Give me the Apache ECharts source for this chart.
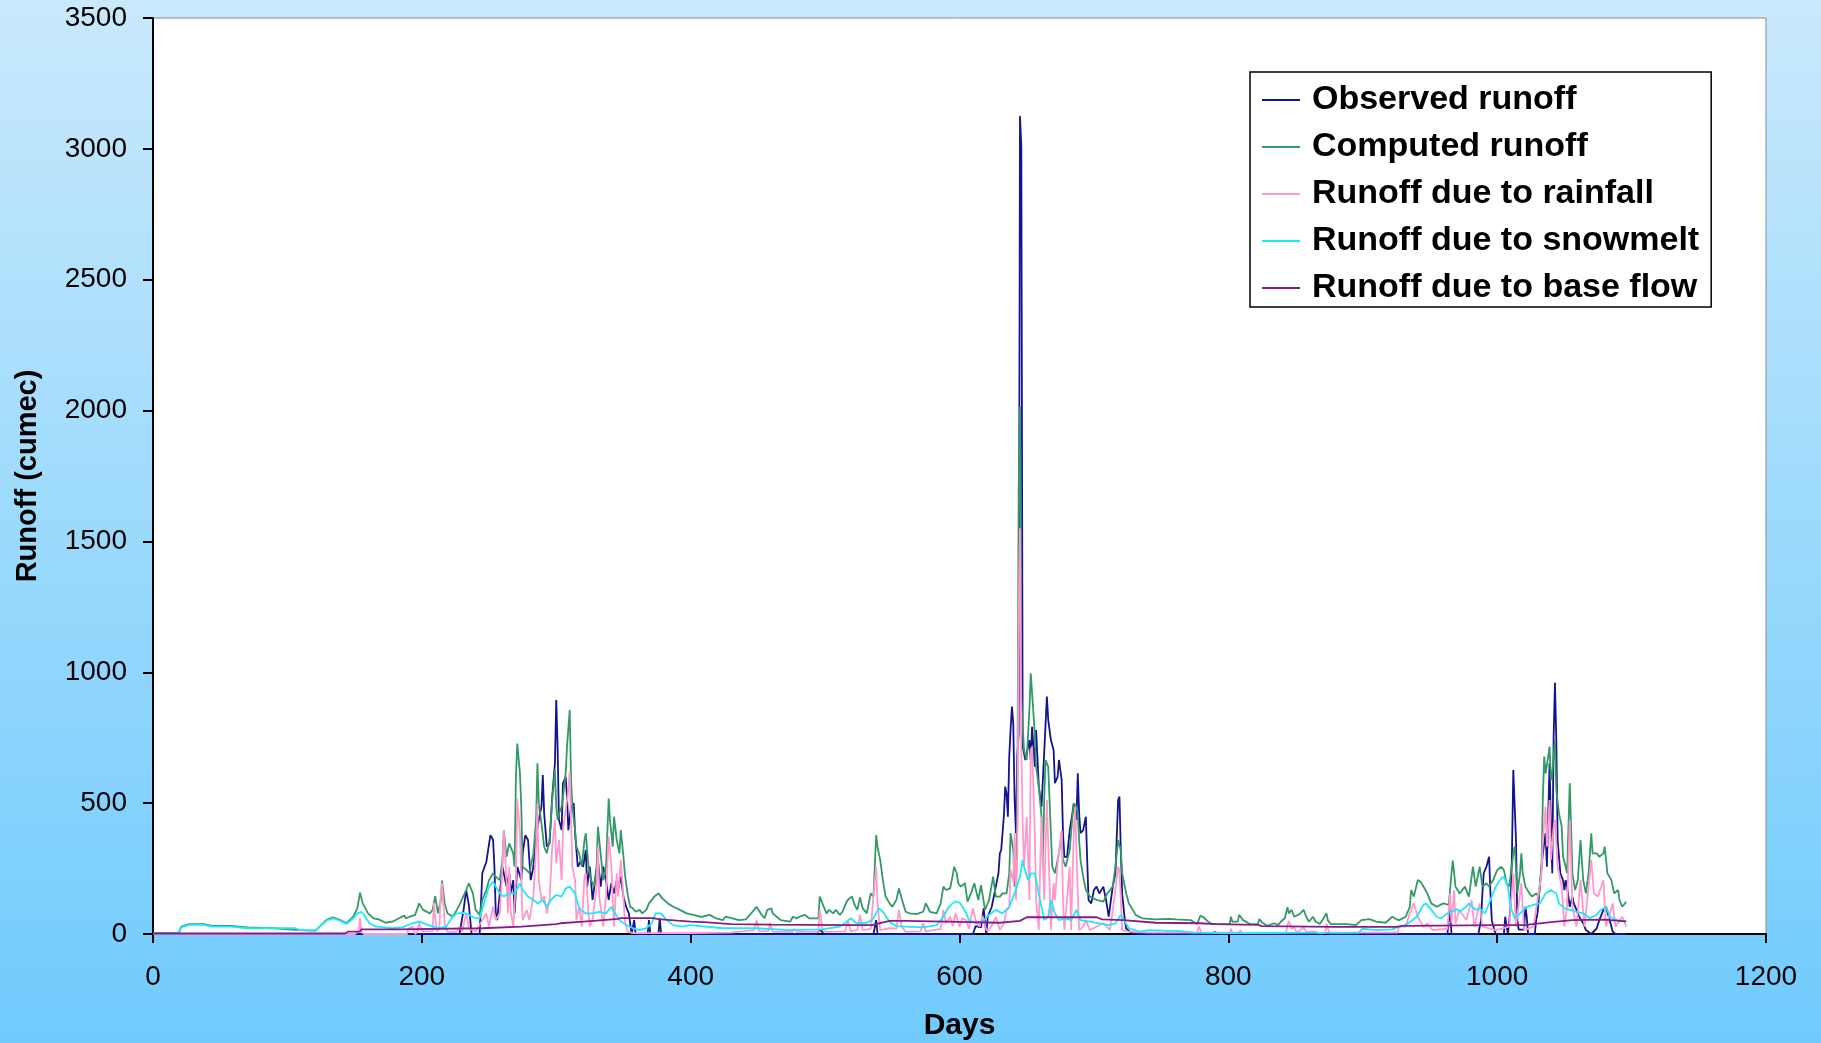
<!DOCTYPE html>
<html>
<head>
<meta charset="utf-8">
<title>Runoff components</title>
<script src="https://cdn.jsdelivr.net/npm/echarts@6/dist/echarts.min.js"></script>
<style>
  html, body { margin: 0; padding: 0; width: 1821px; height: 1043px; overflow: hidden; }
  #chart { width: 1821px; height: 1043px; }
</style>
</head>
<body>
<div id="chart"></div>
<script>
// Daily runoff (cumec) over about three years, as [day, value] pairs.
const seriesNames = ['Observed runoff', 'Computed runoff', 'Runoff due to rainfall', 'Runoff due to snowmelt', 'Runoff due to base flow'];

const observedRunoff = [
  [0,0],[228,0],[231,90],[233,168],[235,110],[237,0],[243,0],[245,232],[248,276],[251,378],[253,359],[254,257],[255,79],[256,53],[258,155],[260,257],[263,181],[265,232],[266,155],[268,206],[269,79],[271,257],[274,206],[275,308],[277,378],[279,359],[281,206],[283,257],[285,372],[287,436],[289,487],[290,607],[291,461],[293,334],[295,346],[297,525],[299,652],[300,894],[301,716],[302,436],[304,397],[305,576],[307,601],[308,525],[309,397],[311,486],[313,499],[314,385],[316,257],[318,276],[320,257],[322,321],[323,181],[325,257],[327,130],[329,206],[331,283],[333,181],[335,257],[337,206],[339,130],[341,194],[343,155],[345,206],[346,168],[348,219],[350,143],[352,104],[354,79],[356,0],[358,53],[359,0],[368,0],[369,53],[370,0],[376,0],[377,60],[378,0],
  [494,0],[495,12],[497,14],[499,0],[536,0],[538,53],[539,0],[610,0],[612,30],[616,25],[618,98],[619,40],[620,0],[621,66],[624,104],[626,155],[629,232],[630,308],[631,320],[633,450],[634,563],[635,537],[636,448],[637,678],[638,780],[639,869],[640,805],[641,512],[642,385],[643,678],[644,767],[645,3125],[646,3008],[647,716],[649,665],[652,741],[653,665],[654,792],[656,639],[657,779],[659,563],[661,486],[663,690],[665,907],[666,818],[668,741],[670,703],[671,576],[673,601],[674,665],[676,588],[677,385],[678,295],[680,295],[682,397],[684,461],[685,499],[687,436],[688,614],[689,461],[690,385],[692,397],[694,448],[695,283],[696,130],[698,117],[700,168],[702,181],[704,155],[707,181],[709,130],[711,66],[714,181],[716,232],[718,512],[719,525],[720,321],[721,155],[723,53],[724,21],[727,8],[731,0],
  [788,0],[790,8],[792,0],[870,0],[872,6],[874,0],[963,0],[964,53],[965,92],[966,0],[986,0],[988,53],[989,155],[990,232],[991,245],[992,257],[994,295],[995,155],[996,53],[998,13],[999,0],[1005,0],[1006,66],[1007,30],[1008,0],[1010,104],[1011,308],[1012,627],[1013,627],[1014,359],[1015,53],[1016,17],[1020,17],[1021,104],[1022,66],[1023,0],[1028,0],[1029,53],[1030,79],[1033,257],[1034,308],[1036,385],[1037,257],[1038,461],[1039,652],[1040,410],[1041,232],[1042,754],[1043,960],[1044,741],[1045,359],[1046,295],[1047,232],[1049,206],[1050,168],[1051,206],[1052,181],[1054,104],[1056,143],[1057,117],[1059,92],[1061,66],[1064,41],[1066,15],[1070,0],[1074,21],[1076,53],[1079,92],[1081,104],[1083,66],[1086,9],[1088,0],[1096,0]
];

const computedRunoff = [
  [0,3],[19,3],[21,28],[27,38],[38,38],[44,31],[58,31],[70,25],[90,22],[109,15],[121,13],[124,28],[129,54],[134,64],[139,54],[144,41],[149,66],[152,98],[154,158],[156,117],[160,79],[164,60],[168,56],[173,43],[178,47],[183,60],[187,70],[188,60],[191,66],[195,73],[198,117],[201,92],[206,79],[208,92],[210,145],[212,79],[214,124],[215,204],[217,117],[219,79],[223,66],[226,92],[228,111],[233,168],[235,194],[238,155],[240,92],[243,73],[245,130],[248,168],[250,206],[253,232],[255,219],[258,206],[260,283],[261,397],[263,295],[265,346],[268,308],[269,257],[270,601],[271,728],[273,614],[274,486],[275,257],[278,244],[280,232],[283,308],[285,436],[286,652],[287,499],[289,423],[291,334],[293,308],[295,359],[297,512],[299,627],[300,486],[301,436],[302,461],[304,486],[305,525],[307,614],[308,716],[310,856],[311,588],[312,486],[314,397],[315,334],[317,308],[319,257],[321,359],[322,385],[324,257],[326,206],[328,181],[330,257],[331,410],[333,308],[335,206],[337,257],[339,518],[340,436],[342,334],[343,448],[345,359],[347,308],[348,397],[350,295],[351,232],[353,155],[355,104],[357,98],[359,85],[362,92],[364,79],[367,92],[369,117],[373,143],[376,155],[379,136],[383,117],[387,104],[392,92],[397,79],[402,73],[407,66],
  [409,66],[414,73],[419,60],[424,53],[426,66],[431,60],[436,53],[441,56],[444,73],[446,85],[449,104],[450,111],[452,79],[455,60],[457,92],[460,98],[461,79],[464,66],[467,53],[474,47],[476,66],[479,60],[481,66],[485,73],[488,60],[495,60],[496,143],[498,117],[501,79],[503,92],[506,79],[508,92],[511,73],[513,85],[516,124],[518,136],[520,143],[522,111],[524,92],[526,140],[528,98],[531,79],[534,155],[536,143],[538,378],[539,334],[541,283],[543,206],[545,143],[548,117],[550,104],[553,130],[555,174],[558,117],[560,85],[563,79],[568,76],[573,85],[575,117],[578,85],[583,79],[586,117],[588,181],[590,168],[593,174],[595,225],[596,257],[598,232],[599,194],[601,181],[604,194],[606,124],[609,162],[611,194],[614,130],[616,187],[619,92],[622,130],[625,219],[627,143],[630,143],[632,155],[635,155],[637,232],[638,385],[640,321],[641,181],[642,283],[643,420],[644,1700],[645,2015],[646,900],[648,703],[650,665],[652,856],[653,996],[654,1002],[656,767],[657,639],[659,563],[661,448],[662,257],[663,512],[664,665],[666,639],[667,512],[668,385],[669,257],[671,232],[672,257],[674,308],[676,385],[677,283],[679,257],[682,321],[684,448],[685,499],[687,486],[688,461],[689,359],[690,283],[692,219],[694,168],[697,143],[702,130],[707,124],[710,155],[714,181],[716,257],[718,359],[720,321],[721,232],[724,155],[726,117],[729,92],[731,73],[736,60],[746,56],[756,58],[761,56],[772,53],[774,47],[777,38],[779,69],[781,66],[785,47],[788,38],[801,38],[802,66],[803,47],[807,47],[808,73],[811,53],[816,38],[822,38],[823,57],[826,41],[829,31],[834,41],[837,34],[839,47],[842,60],[844,102],[845,79],[847,92],[849,66],[853,76],[856,92],[858,66],[860,47],[863,66],[865,47],[868,38],[870,53],[873,79],[874,53],[876,38],[888,38],[895,34],[899,53],[905,57],[910,47],[917,43],[922,66],[925,56],[927,53],[932,66],[935,104],[936,168],[938,143],[941,206],[943,200],[946,174],[948,155],[951,117],[955,104],[960,117],[964,111],[966,232],[967,280],[969,181],[972,155],[976,181],[979,143],[982,257],[984,181],[987,257],[989,181],[992,194],[994,181],[997,206],[1000,244],[1003,257],[1005,244],[1007,194],[1009,181],[1012,308],[1013,334],[1014,257],[1015,155],[1017,232],[1018,308],[1019,232],[1021,181],[1024,155],[1026,143],[1029,155],[1031,143],[1033,257],[1034,525],[1035,678],[1036,614],[1038,678],[1039,716],[1040,588],[1041,614],[1043,741],[1044,550],[1046,461],[1048,410],[1049,295],[1051,257],[1052,232],[1054,576],[1056,232],[1058,168],[1060,206],[1062,359],[1064,206],[1066,155],[1068,232],[1070,385],[1071,308],[1074,308],[1076,295],[1079,308],[1080,334],[1082,232],[1085,206],[1087,155],[1090,168],[1091,130],[1093,104],[1096,123]
];

const rainfallRunoff = [
  [0,0],[150,0],[153,10],[154,60],[155,8],[157,0],[189,0],[190,20],[193,30],[195,0],[197,10],[198,46],[200,10],[208,10],[209,117],[211,10],[213,20],[214,143],[215,194],[217,40],[219,8],[226,8],[228,28],[230,9],[233,79],[235,22],[240,9],[245,53],[248,79],[250,28],[253,104],[255,53],[258,79],[260,257],[261,397],[263,206],[264,79],[265,257],[266,92],[268,28],[270,206],[271,518],[273,385],[274,206],[275,53],[278,92],[280,53],[283,143],[285,334],[286,499],[287,206],[289,130],[291,143],[293,79],[295,130],[297,334],[299,436],[300,270],[302,359],[304,206],[305,397],[307,474],[309,550],[310,620],[311,436],[312,257],[314,206],[315,53],[317,104],[319,28],[321,219],[322,232],[324,79],[325,28],[327,53],[330,181],[331,334],[332,143],[335,28],[337,143],[339,372],[341,257],[343,28],[345,232],[346,143],[348,283],[350,143],[351,53],[353,9],[357,3],[400,3],[430,5],
  [447,15],[449,53],[451,10],[458,12],[459,41],[461,8],[476,8],[477,20],[479,8],[495,8],[496,92],[498,20],[500,8],[515,10],[517,53],[519,10],[524,15],[526,73],[528,15],[534,20],[536,149],[538,257],[539,117],[541,15],[548,22],[553,20],[555,92],[557,28],[560,8],[571,10],[573,41],[575,10],[586,20],[588,92],[590,40],[593,66],[595,30],[597,79],[600,28],[602,60],[605,53],[607,20],[610,98],[612,53],[615,28],[617,70],[620,15],[622,15],[625,40],[627,66],[630,15],[633,40],[635,92],[637,100],[638,245],[640,200],[641,385],[642,130],[643,300],[644,1200],[645,1550],[646,700],[647,423],[648,257],[650,448],[652,130],[653,703],[654,716],[656,385],[657,130],[659,15],[660,257],[661,448],[663,130],[665,512],[667,194],[668,15],[670,194],[671,130],[673,270],[676,397],[677,130],[678,15],[680,130],[682,257],[683,15],[685,385],[686,486],[688,155],[689,15],[692,28],[694,53],[697,15],[702,28],[707,41],[712,15],[715,130],[718,257],[719,245],[721,15],[726,9],[740,5],
  [777,5],[778,30],[780,5],[801,5],[802,20],[803,5],[808,5],[809,15],[810,3],[822,3],[823,10],[825,3],[843,5],[844,34],[845,50],[847,20],[849,25],[851,5],[856,25],[858,8],[865,10],[867,3],[872,3],[873,40],[875,5],[876,3],[926,5],[927,28],[932,28],[935,79],[938,117],[941,66],[945,28],[948,40],[952,15],[963,20],[965,155],[966,40],[968,168],[969,40],[972,92],[977,53],[981,130],[983,28],[987,117],[989,28],[999,15],[1009,28],[1012,232],[1014,28],[1018,194],[1020,15],[1027,28],[1033,232],[1034,359],[1036,486],[1037,334],[1039,512],[1040,283],[1042,410],[1043,436],[1045,257],[1048,181],[1050,28],[1052,104],[1054,436],[1056,104],[1059,28],[1062,206],[1065,28],[1070,283],[1072,155],[1075,143],[1079,206],[1081,28],[1086,117],[1088,28],[1093,66],[1096,28]
];

const snowmeltRunoff = [
  [0,2],[19,2],[21,25],[27,35],[38,35],[44,28],[58,28],[70,22],[90,22],[106,22],[109,15],[121,13],[124,28],[129,51],[134,60],[139,51],[144,38],[149,60],[152,79],[155,85],[157,73],[161,41],[166,28],[171,26],[178,22],[186,26],[193,41],[198,47],[203,38],[208,28],[213,22],[218,28],[223,66],[226,79],[231,81],[235,73],[239,62],[243,60],[247,130],[250,181],[253,200],[255,181],[258,155],[261,143],[265,155],[269,155],[273,194],[275,168],[279,143],[283,130],[286,117],[290,130],[293,104],[296,130],[300,149],[304,143],[307,174],[310,181],[314,155],[316,117],[318,92],[322,79],[327,79],[332,85],[337,79],[341,104],[343,85],[347,53],[352,34],[357,22],[362,15],[367,22],[371,41],[374,79],[378,79],[382,53],[387,34],[394,28],[399,34],[424,22],[449,22],[473,15],[498,18],[511,28],[516,47],[519,60],[523,43],[530,41],[535,53],[540,98],[543,85],[548,47],[553,30],[560,28],[573,25],[583,34],[588,66],[592,104],[595,117],[597,124],[600,120],[602,105],[605,80],[607,53],[612,41],[617,47],[622,73],[627,92],[632,79],[637,104],[641,155],[645,219],[647,283],[648,257],[651,206],[653,232],[656,232],[658,181],[661,104],[663,53],[666,66],[668,130],[671,79],[674,53],[679,60],[683,53],[687,92],[690,53],[697,47],[704,41],[711,34],[716,41],[720,73],[723,47],[726,22],[734,9],[741,15],[751,13],[764,11],[774,5],[798,3],[897,5],[900,20],[910,15],[922,18],[927,28],[930,30],[935,45],[940,65],[945,110],[947,117],[951,92],[955,66],[958,60],[960,66],[963,79],[967,88],[970,95],[972,85],[977,104],[979,117],[984,92],[987,98],[991,79],[994,117],[999,181],[1003,213],[1005,219],[1008,181],[1010,104],[1013,60],[1017,79],[1022,104],[1027,111],[1032,117],[1036,155],[1040,168],[1044,155],[1046,117],[1050,98],[1054,92],[1059,85],[1064,79],[1069,60],[1074,73],[1077,92],[1081,104],[1084,66],[1089,53],[1096,47]
];

const baseFlowRunoff = [
  [0,2],[143,2],[145,9],[154,9],[155,18],[182,18],[183,22],[245,22],[246,26],[274,28],[275,31],[300,38],[303,41],[320,47],[330,51],[346,58],[348,61],[372,61],[376,57],[390,51],[400,47],[410,45],[430,38],[460,36],[520,34],[535,34],[540,41],[548,50],[560,50],[600,46],[630,43],[645,50],[650,64],[702,64],[706,56],[722,53],[746,43],[779,41],[790,38],[822,35],[825,30],[880,27],[925,27],[930,31],[1000,34],[1020,34],[1030,40],[1040,45],[1050,50],[1056,53],[1080,55],[1096,48]
];

const seriesData = [observedRunoff, computedRunoff, rainfallRunoff, snowmeltRunoff, baseFlowRunoff];
const seriesColors = ['#14148c', '#339966', '#ff99cc', '#1ee8ff', '#8a1a8a'];

const FONT = "'Liberation Sans', Arial, sans-serif";

const chart = echarts.init(document.getElementById('chart'), null, { renderer: 'canvas' });

chart.setOption({
  animation: false,
  backgroundColor: {
    type: 'linear', x: 0, y: 0, x2: 0, y2: 1,
    colorStops: [{ offset: 0, color: '#c9e9fc' }, { offset: 1, color: '#70cbfd' }]
  },
  grid: {
    left: 153, top: 18, right: 55, bottom: 109,
    outerBoundsMode: 'none',
    show: true, backgroundColor: '#ffffff', borderColor: '#8a8a8a', borderWidth: 1
  },
  legend: {
    orient: 'vertical',
    left: 1250, top: 72,
    icon: 'rect', itemWidth: 38, itemHeight: 2, itemGap: 11,
    padding: [10, 12, 1, 12],
    backgroundColor: '#ffffff', borderColor: '#000000', borderWidth: 1.5,
    textStyle: { fontFamily: FONT, fontWeight: 'bold', fontSize: 34, lineHeight: 36, color: '#000', padding: [0, 0, 0, 7] },
    data: seriesNames
  },
  xAxis: {
    type: 'value', min: 0, max: 1200, interval: 200,
    name: 'Days', nameLocation: 'middle', nameGap: 77,
    nameTextStyle: { fontFamily: FONT, fontWeight: 'bold', fontSize: 30, color: '#000' },
    axisLine: { show: true, onZero: false, lineStyle: { color: '#000', width: 2 } },
    axisTick: { show: true, inside: false, length: 9, lineStyle: { color: '#000', width: 2 } },
    axisLabel: { fontFamily: FONT, fontSize: 28, color: '#000', margin: 29, formatter: v => String(v) },
    splitLine: { show: false }
  },
  yAxis: {
    type: 'value', min: 0, max: 3500, interval: 500,
    name: 'Runoff (cumec)', nameLocation: 'middle', nameGap: 111,
    nameTextStyle: { fontFamily: FONT, fontWeight: 'bold', fontSize: 29, color: '#000' },
    axisLine: { show: true, lineStyle: { color: '#000', width: 2 } },
    axisTick: { show: true, inside: false, length: 10, lineStyle: { color: '#000', width: 2 } },
    axisLabel: { fontFamily: FONT, fontSize: 28, color: '#000', margin: 26, formatter: v => String(v) },
    splitLine: { show: false }
  },
  series: seriesNames.map((name, i) => ({
    name: name,
    type: 'line',
    data: seriesData[i],
    symbol: 'none',
    color: seriesColors[i],
    lineStyle: { color: seriesColors[i], width: 1.8 },
    emphasis: { disabled: true }
  }))
});
</script>
</body>
</html>
